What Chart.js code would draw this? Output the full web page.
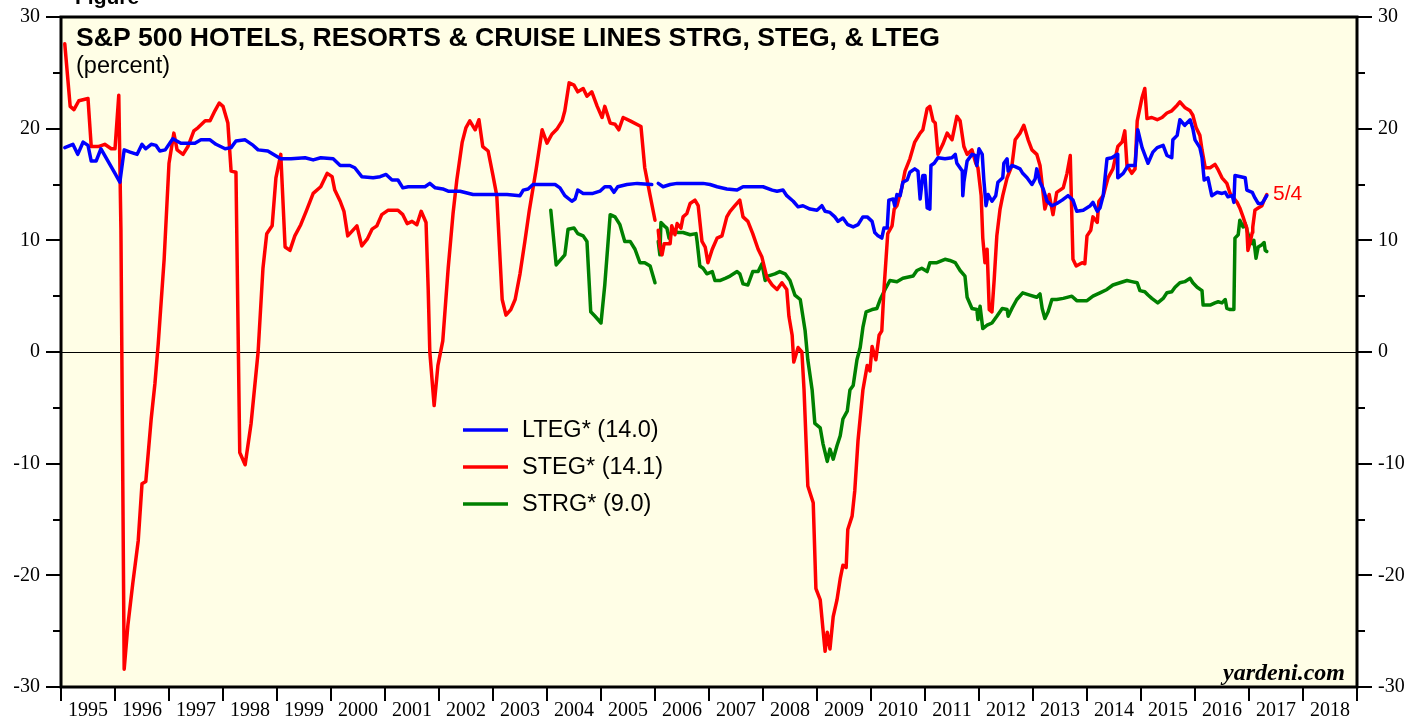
<!DOCTYPE html>
<html>
<head>
<meta charset="utf-8">
<script src="https://cdn.jsdelivr.net/npm/chart.js@4.4.1/dist/chart.umd.min.js"></script>
<style>
  html, body { margin: 0; padding: 0; background: #fff; }
  canvas { display: block; }
</style>
</head>
<body>
<canvas id="chart" width="1427" height="719"></canvas>
<script>
// [year as decimal, percent]; null = break in the series (Jan 2006)
const ltegSeries = [
  [1995.07,18.3],[1995.22,18.6],[1995.31,17.7],[1995.41,18.8],[1995.50,18.5],[1995.56,17.1],[1995.65,17.1],
  [1995.74,18.2],[1995.87,17.1],[1996.00,16.0],[1996.09,15.2],[1996.17,18.1],[1996.28,17.9],[1996.41,17.7],
  [1996.50,18.6],[1996.57,18.2],[1996.67,18.6],[1996.76,18.5],[1996.83,18.0],[1996.93,18.1],[1997.07,19.1],
  [1997.22,18.7],[1997.48,18.7],[1997.59,19.0],[1997.76,19.0],[1997.87,18.6],[1998.04,18.2],[1998.15,18.3],
  [1998.24,18.9],[1998.41,19.0],[1998.56,18.5],[1998.65,18.1],[1998.83,18.0],[1998.93,17.7],[1999.07,17.3],
  [1999.26,17.3],[1999.52,17.4],[1999.67,17.2],[1999.81,17.4],[2000.04,17.3],[2000.17,16.7],[2000.35,16.7],
  [2000.44,16.5],[2000.57,15.7],[2000.78,15.6],[2000.91,15.7],[2001.02,15.9],[2001.13,15.4],[2001.24,15.4],
  [2001.33,14.7],[2001.43,14.8],[2001.65,14.8],[2001.74,14.8],[2001.83,15.1],[2001.93,14.7],[2002.07,14.6],
  [2002.17,14.4],[2002.39,14.4],[2002.63,14.1],[2002.89,14.1],[2003.07,14.1],[2003.26,14.1],[2003.50,14.0],
  [2003.56,14.5],[2003.65,14.6],[2003.74,15.0],[2003.93,15.0],[2004.15,15.0],[2004.24,14.7],[2004.33,14.0],
  [2004.46,13.5],[2004.52,13.7],[2004.57,14.5],[2004.67,14.2],[2004.85,14.2],[2004.98,14.4],[2005.07,14.8],
  [2005.17,14.8],[2005.24,14.3],[2005.31,14.8],[2005.48,15.0],[2005.67,15.1],[2005.94,15.0],[2006.00,null],
  [2006.06,15.1],[2006.15,14.8],[2006.28,15.0],[2006.41,15.1],[2006.65,15.1],[2006.89,15.1],[2007.02,15.0],
  [2007.15,14.8],[2007.33,14.6],[2007.52,14.5],[2007.63,14.8],[2007.76,14.8],[2008.00,14.8],[2008.17,14.5],
  [2008.26,14.4],[2008.37,14.5],[2008.44,14.0],[2008.56,13.5],[2008.65,13.0],[2008.74,13.1],[2008.87,12.8],
  [2009.00,12.7],[2009.09,13.1],[2009.15,12.6],[2009.24,12.5],[2009.33,12.1],[2009.39,11.7],[2009.48,12.0],
  [2009.57,11.4],[2009.67,11.2],[2009.76,11.4],[2009.85,12.1],[2009.93,12.1],[2010.02,11.7],[2010.07,10.7],
  [2010.13,10.4],[2010.20,10.2],[2010.24,11.1],[2010.30,11.1],[2010.33,13.6],[2010.41,13.7],[2010.44,13.1],
  [2010.48,14.1],[2010.54,14.0],[2010.59,15.2],[2010.67,15.4],[2010.72,16.1],[2010.81,16.4],[2010.87,16.2],
  [2010.91,13.7],[2010.96,15.8],[2011.00,15.8],[2011.04,12.9],[2011.09,12.8],[2011.11,16.7],[2011.17,16.9],
  [2011.24,17.4],[2011.37,17.3],[2011.50,17.4],[2011.56,17.7],[2011.59,16.9],[2011.69,16.2],[2011.70,14.0],
  [2011.72,15.2],[2011.78,17.1],[2011.87,17.7],[2011.93,17.6],[2011.96,16.7],[2012.00,18.2],[2012.06,17.7],
  [2012.09,15.4],[2012.13,13.1],[2012.17,14.1],[2012.24,13.5],[2012.31,14.0],[2012.35,15.2],[2012.44,15.6],
  [2012.46,16.9],[2012.52,17.3],[2012.54,16.2],[2012.61,16.7],[2012.67,16.6],[2012.76,16.4],[2012.81,16.0],
  [2012.89,15.6],[2012.98,15.0],[2013.04,15.5],[2013.07,16.4],[2013.13,15.2],[2013.19,14.6],[2013.26,13.5],
  [2013.35,13.1],[2013.44,13.3],[2013.54,13.6],[2013.65,14.0],[2013.74,13.6],[2013.81,12.6],[2013.93,12.7],
  [2014.06,13.1],[2014.11,13.4],[2014.19,12.6],[2014.24,12.9],[2014.30,14.0],[2014.37,17.3],[2014.46,17.4],
  [2014.56,17.7],[2014.57,15.6],[2014.67,16.0],[2014.76,16.7],[2014.89,16.7],[2014.94,19.9],[2015.02,18.3],
  [2015.13,16.9],[2015.22,17.9],[2015.30,18.3],[2015.41,18.5],[2015.48,17.6],[2015.57,17.4],[2015.59,19.0],
  [2015.67,19.4],[2015.72,20.8],[2015.81,20.3],[2015.91,20.8],[2015.96,20.0],[2016.00,19.0],[2016.09,18.3],
  [2016.13,17.4],[2016.17,15.4],[2016.24,15.6],[2016.31,14.0],[2016.41,14.3],[2016.50,14.2],[2016.56,14.3],
  [2016.61,13.9],[2016.69,14.0],[2016.72,13.4],[2016.74,15.8],[2016.93,15.6],[2016.96,14.5],[2017.06,14.3],
  [2017.11,13.8],[2017.17,13.3],[2017.24,13.3],[2017.28,13.6],[2017.33,14.0]
];

const stegSeries = [
  [1995.07,27.6],[1995.17,22.0],[1995.24,21.7],[1995.33,22.5],[1995.50,22.7],[1995.56,18.4],[1995.69,18.4],
  [1995.81,18.6],[1995.93,18.2],[1996.00,18.2],[1996.07,23.0],[1996.11,10.9],[1996.17,-28.4],[1996.24,-24.4],
  [1996.33,-20.7],[1996.43,-16.9],[1996.50,-11.8],[1996.57,-11.6],[1996.67,-6.0],[1996.74,-2.8],[1996.80,0.7],
  [1996.91,8.3],[1997.00,16.9],[1997.09,19.6],[1997.15,18.1],[1997.26,17.7],[1997.35,18.4],[1997.46,19.8],
  [1997.54,20.1],[1997.67,20.7],[1997.76,20.7],[1997.85,21.6],[1997.93,22.3],[1998.00,22.0],[1998.09,20.5],
  [1998.15,16.2],[1998.24,16.1],[1998.31,-9.0],[1998.41,-10.1],[1998.52,-6.4],[1998.65,0.0],[1998.74,7.5],
  [1998.81,10.6],[1998.91,11.3],[1998.98,15.6],[1999.07,17.7],[1999.15,9.4],[1999.24,9.1],[1999.33,10.4],
  [1999.44,11.4],[1999.54,12.6],[1999.67,14.2],[1999.81,14.8],[1999.93,16.0],[2000.02,15.7],[2000.07,14.5],
  [2000.17,13.5],[2000.24,12.6],[2000.31,10.4],[2000.48,11.3],[2000.57,9.5],[2000.67,10.1],[2000.76,11.0],
  [2000.85,11.3],[2000.94,12.3],[2001.06,12.7],[2001.24,12.7],[2001.33,12.3],[2001.41,11.5],[2001.50,11.7],
  [2001.59,11.4],[2001.67,12.6],[2001.76,11.6],[2001.80,5.6],[2001.83,0.0],[2001.91,-4.8],[2001.98,-1.2],
  [2002.07,1.0],[2002.17,7.5],[2002.26,12.4],[2002.33,15.4],[2002.43,18.8],[2002.50,20.1],[2002.57,20.7],
  [2002.67,19.9],[2002.74,20.8],[2002.81,18.4],[2002.91,18.0],[2003.00,15.8],[2003.07,14.0],[2003.17,4.7],
  [2003.24,3.3],[2003.33,3.8],[2003.41,4.7],[2003.50,7.0],[2003.59,9.9],[2003.67,12.6],[2003.80,16.4],
  [2003.91,19.9],[2004.00,18.7],[2004.09,19.5],[2004.19,20.0],[2004.28,20.7],[2004.33,21.6],[2004.41,24.1],
  [2004.50,23.9],[2004.57,23.3],[2004.67,23.6],[2004.74,22.9],[2004.83,23.3],[2004.93,22.0],[2005.02,21.0],
  [2005.07,22.0],[2005.17,20.5],[2005.26,20.4],[2005.33,19.9],[2005.41,21.0],[2005.54,20.7],[2005.74,20.2],
  [2005.81,16.5],[2005.91,14.0],[2006.00,11.8],[2006.03,null],[2006.06,10.9],[2006.09,9.4],[2006.13,8.7],
  [2006.17,9.7],[2006.28,9.7],[2006.31,11.3],[2006.37,10.5],[2006.41,11.5],[2006.48,11.1],[2006.52,12.1],
  [2006.59,12.4],[2006.65,13.3],[2006.74,13.6],[2006.80,13.1],[2006.87,9.9],[2006.93,9.4],[2006.98,8.0],
  [2007.06,9.2],[2007.15,10.2],[2007.24,10.4],[2007.33,12.1],[2007.39,12.6],[2007.48,13.1],[2007.57,13.6],
  [2007.63,12.1],[2007.72,11.7],[2007.81,10.6],[2007.91,9.2],[2007.98,8.5],[2008.07,6.7],[2008.17,6.0],
  [2008.26,5.6],[2008.35,6.2],[2008.44,5.6],[2008.48,3.2],[2008.54,1.5],[2008.57,-0.9],[2008.65,0.4],
  [2008.72,0.0],[2008.76,-3.4],[2008.83,-12.0],[2008.93,-13.5],[2008.98,-21.2],[2009.06,-22.2],[2009.11,-24.8],
  [2009.15,-26.8],[2009.19,-25.1],[2009.24,-26.6],[2009.30,-23.7],[2009.37,-22.2],[2009.43,-20.3],[2009.48,-19.1],
  [2009.54,-19.3],[2009.57,-15.9],[2009.65,-14.7],[2009.70,-12.4],[2009.76,-7.9],[2009.85,-3.4],[2009.93,-1.2],
  [2009.98,-1.7],[2010.02,0.5],[2010.09,-0.7],[2010.15,1.5],[2010.20,1.9],[2010.24,5.6],[2010.31,10.6],
  [2010.39,11.3],[2010.43,12.8],[2010.48,13.1],[2010.57,14.7],[2010.63,16.2],[2010.72,17.3],[2010.81,18.8],
  [2010.91,19.6],[2010.96,19.9],[2011.04,21.8],[2011.09,22.0],[2011.15,20.7],[2011.19,20.5],[2011.24,17.7],
  [2011.33,18.6],[2011.41,19.6],[2011.50,19.0],[2011.59,21.1],[2011.65,20.7],[2011.72,18.4],[2011.78,17.7],
  [2011.87,18.1],[2011.94,16.9],[2011.98,16.5],[2012.04,14.0],[2012.07,10.2],[2012.11,8.0],[2012.15,9.2],
  [2012.19,3.8],[2012.24,3.6],[2012.28,6.4],[2012.33,10.4],[2012.39,12.8],[2012.44,14.0],[2012.52,15.6],
  [2012.61,16.7],[2012.67,19.0],[2012.76,19.6],[2012.83,20.3],[2012.91,19.0],[2012.98,18.1],[2013.07,17.7],
  [2013.13,16.7],[2013.22,12.8],[2013.30,14.1],[2013.37,12.3],[2013.44,14.3],[2013.56,14.7],[2013.63,16.0],
  [2013.69,17.6],[2013.74,8.3],[2013.80,7.7],[2013.91,8.0],[2013.96,7.9],[2014.00,10.4],[2014.07,10.9],
  [2014.11,12.1],[2014.19,11.6],[2014.22,13.5],[2014.30,14.0],[2014.39,15.6],[2014.48,16.4],[2014.57,18.4],
  [2014.65,18.8],[2014.70,19.8],[2014.74,16.7],[2014.83,16.0],[2014.89,16.4],[2014.93,20.7],[2015.02,22.8],
  [2015.07,23.6],[2015.11,20.9],[2015.20,21.0],[2015.30,20.8],[2015.39,21.0],[2015.48,21.4],[2015.57,21.6],
  [2015.67,22.1],[2015.72,22.4],[2015.81,21.9],[2015.91,21.6],[2015.96,21.2],[2016.02,20.1],[2016.09,19.4],
  [2016.13,18.1],[2016.19,16.5],[2016.28,16.5],[2016.37,16.8],[2016.43,16.3],[2016.50,15.6],[2016.59,15.1],
  [2016.65,14.2],[2016.70,13.9],[2016.78,13.4],[2016.83,12.9],[2016.89,12.1],[2016.93,11.5],[2016.96,11.1],
  [2016.98,9.1],[2017.02,9.8],[2017.06,10.7],[2017.07,11.2],[2017.11,12.7],[2017.17,12.9],[2017.24,13.1],
  [2017.28,13.6],[2017.33,14.1]
];

const strgSeries = [
  [2004.07,12.7],[2004.17,7.8],[2004.33,8.7],[2004.39,11.0],[2004.50,11.1],[2004.57,10.6],[2004.67,10.4],
  [2004.74,9.9],[2004.81,3.6],[2004.89,3.2],[2005.00,2.6],[2005.07,6.0],[2005.17,12.3],[2005.26,12.1],
  [2005.35,11.4],[2005.44,9.9],[2005.54,9.9],[2005.63,9.2],[2005.72,8.0],[2005.81,8.0],[2005.91,7.7],
  [2006.00,6.2],[2006.03,null],[2006.06,9.9],[2006.09,8.7],[2006.11,11.6],[2006.17,11.3],[2006.22,11.1],
  [2006.26,10.2],[2006.33,10.9],[2006.43,10.7],[2006.52,10.7],[2006.65,10.5],[2006.76,10.6],[2006.78,9.9],
  [2006.83,7.7],[2006.89,7.5],[2006.96,7.0],[2007.06,7.2],[2007.11,6.4],[2007.20,6.4],[2007.30,6.6],
  [2007.39,6.8],[2007.52,7.2],[2007.57,7.0],[2007.63,6.1],[2007.72,6.0],[2007.81,7.2],[2007.91,7.2],
  [2007.98,7.9],[2008.04,6.4],[2008.09,6.8],[2008.22,7.0],[2008.31,7.2],[2008.41,7.0],[2008.50,6.4],
  [2008.59,5.1],[2008.69,4.7],[2008.78,1.9],[2008.83,-0.7],[2008.91,-3.4],[2008.96,-6.4],[2009.06,-6.8],
  [2009.11,-8.2],[2009.19,-9.8],[2009.24,-8.7],[2009.30,-9.6],[2009.37,-8.4],[2009.43,-7.5],[2009.48,-6.0],
  [2009.56,-5.3],[2009.61,-3.4],[2009.67,-3.0],[2009.74,-0.7],[2009.80,0.4],[2009.85,2.2],[2009.91,3.6],
  [2010.02,3.8],[2010.11,3.9],[2010.17,4.7],[2010.26,5.6],[2010.35,6.4],[2010.48,6.3],[2010.59,6.6],
  [2010.78,6.8],[2010.85,7.3],[2010.94,7.5],[2011.04,7.2],[2011.09,8.0],[2011.22,8.0],[2011.37,8.3],
  [2011.46,8.2],[2011.56,8.0],[2011.65,7.3],[2011.74,6.8],[2011.78,4.9],[2011.87,3.9],[2011.96,3.8],
  [2011.98,2.9],[2012.02,4.1],[2012.07,2.1],[2012.15,2.4],[2012.24,2.6],[2012.33,3.2],[2012.43,3.9],
  [2012.52,3.8],[2012.54,3.2],[2012.61,3.9],[2012.70,4.7],[2012.81,5.3],[2012.94,5.1],[2013.07,4.9],
  [2013.13,5.2],[2013.17,3.9],[2013.22,3.0],[2013.28,3.6],[2013.35,4.7],[2013.44,4.7],[2013.56,4.8],
  [2013.72,5.0],[2013.81,4.6],[2014.00,4.6],[2014.11,5.0],[2014.24,5.3],[2014.37,5.6],[2014.48,6.0],
  [2014.61,6.2],[2014.74,6.4],[2014.83,6.3],[2014.93,6.2],[2014.98,5.5],[2015.07,5.4],[2015.13,5.1],
  [2015.20,4.8],[2015.31,4.4],[2015.41,4.8],[2015.48,5.3],[2015.57,5.4],[2015.63,5.8],[2015.72,6.2],
  [2015.81,6.3],[2015.91,6.6],[2015.96,6.2],[2016.04,5.8],[2016.13,5.5],[2016.15,4.2],[2016.28,4.2],
  [2016.37,4.4],[2016.43,4.5],[2016.50,4.4],[2016.56,4.7],[2016.59,3.9],[2016.65,3.8],[2016.72,3.8],
  [2016.74,10.2],[2016.80,10.5],[2016.83,11.8],[2016.89,11.2],[2016.93,11.5],[2016.98,10.6],[2017.06,9.7],
  [2017.09,10.0],[2017.13,8.4],[2017.17,9.4],[2017.24,9.6],[2017.28,9.8],[2017.30,9.1],[2017.33,9.0]
];

const yearLabels = ['1995','1996','1997','1998','1999','2000','2001','2002','2003','2004','2005','2006',
  '2007','2008','2009','2010','2011','2012','2013','2014','2015','2016','2017','2018'];
const seriesNames = ['LTEG* (14.0)', 'STEG* (14.1)', 'STRG* (9.0)'];
const seriesColors = ['#0000ff', '#ff0000', '#008000'];
const titleText = 'S&P 500 HOTELS, RESORTS & CRUISE LINES STRG, STEG, & LTEG';

const toPoints = s => s.map(p => ({ x: p[0], y: p[1] }));

const serifTicks = { family: '"Liberation Serif", "Times New Roman", serif', size: 20 };

// keep the y axes from pushing the plot area down
function fixVertical(width) {
  return s => { s.width = width; s.paddingTop = 0; s.paddingBottom = 0; };
}

// frame, tick marks, titles and the hand-placed legend
const decorations = {
  id: 'decorations',
  beforeDraw(chart) {
    const { ctx, chartArea: a } = chart;
    ctx.save();
    ctx.fillStyle = '#fffee6';
    ctx.fillRect(a.left, a.top, a.right - a.left, a.bottom - a.top);
    ctx.restore();
  },
  afterDraw(chart) {
    const { ctx, chartArea: a } = chart;
    const ys = chart.scales.y;
    ctx.save();

    // y tick marks on both sides, long at tens, short at fives
    ctx.strokeStyle = '#000';
    ctx.lineWidth = 2;
    for (let v = -30; v <= 30; v += 5) {
      const py = Math.round(ys.getPixelForValue(v));
      const len = v % 10 === 0 ? 15 : 8;
      ctx.beginPath();
      ctx.moveTo(a.left - len, py); ctx.lineTo(a.left, py);
      ctx.moveTo(a.right, py); ctx.lineTo(a.right + len, py);
      ctx.stroke();
    }

    // plot frame
    ctx.lineWidth = 3;
    ctx.strokeRect(a.left, a.top, a.right - a.left, a.bottom - a.top);

    // cut-off figure heading above the frame
    ctx.fillStyle = '#000';
    ctx.textAlign = 'left';
    ctx.textBaseline = 'alphabetic';
    ctx.font = 'bold 21px "Liberation Sans", Arial, sans-serif';
    ctx.fillText('Figure', 75, 4);

    ctx.font = 'bold 26.6px "Liberation Sans", Arial, sans-serif';
    ctx.fillText(titleText, 76, 46);
    ctx.font = '23.5px "Liberation Sans", Arial, sans-serif';
    ctx.fillText('(percent)', 76, 73);

    // legend
    ctx.textBaseline = 'middle';
    ctx.font = '23.5px "Liberation Sans", Arial, sans-serif';
    seriesNames.forEach((name, i) => {
      const ly = 430 + i * 37;
      ctx.strokeStyle = seriesColors[i];
      ctx.lineWidth = 3.5;
      ctx.beginPath();
      ctx.moveTo(463, ly); ctx.lineTo(508, ly);
      ctx.stroke();
      ctx.fillStyle = '#000';
      ctx.fillText(name, 522, ly + 1);
    });

    // date tag at the end of the lines
    ctx.fillStyle = '#ff0000';
    ctx.font = '21px "Liberation Sans", Arial, sans-serif';
    ctx.fillText('5/4', 1273, 194);

    ctx.fillStyle = '#000';
    ctx.textAlign = 'right';
    ctx.textBaseline = 'alphabetic';
    ctx.font = 'italic bold 24px "Liberation Serif", "Times New Roman", serif';
    ctx.fillText('yardeni.com', 1345, 680);

    ctx.restore();
  }
};

const chart = new Chart(document.getElementById('chart'), {
  type: 'line',
  data: {
    datasets: [
      { label: 'LTEG', data: toPoints(ltegSeries), borderColor: seriesColors[0] },
      { label: 'STEG', data: toPoints(stegSeries), borderColor: seriesColors[1] },
      { label: 'STRG', data: toPoints(strgSeries), borderColor: seriesColors[2] }
    ]
  },
  options: {
    responsive: false,
    animation: false,
    devicePixelRatio: 1,
    spanGaps: false,
    layout: { padding: { top: 17, left: 0, right: 0, bottom: 0 } },
    elements: {
      point: { radius: 0, hoverRadius: 0 },
      line: { borderWidth: 3.5, tension: 0, borderJoinStyle: 'round', borderCapStyle: 'round', fill: false }
    },
    plugins: { legend: { display: false }, tooltip: { enabled: false } },
    scales: {
      x: {
        type: 'linear', min: 1995, max: 2019,
        afterFit(s) { s.height = 32; s.paddingLeft = 0; s.paddingRight = 0; },
        border: { display: false },
        grid: { drawOnChartArea: false, drawTicks: true, tickLength: 14, lineWidth: 2, color: '#000' },
        ticks: {
          stepSize: 1, autoSkip: false, maxRotation: 0, labelOffset: 27, padding: -2,
          color: '#000', font: serifTicks,
          callback: v => yearLabels[Math.round(v) - 1995] || ''
        }
      },
      y: {
        position: 'left', min: -30, max: 30,
        afterFit: fixVertical(61),
        border: { display: false },
        grid: {
          drawTicks: false, lineWidth: 1,
          color: c => (c.tick && c.tick.value === 0) ? '#000' : 'rgba(0,0,0,0)'
        },
        ticks: {
          stepSize: 5, autoSkip: false, padding: 21, color: '#000', font: serifTicks,
          callback: v => v % 10 === 0 ? String(v) : ''
        }
      },
      y2: {
        position: 'right', min: -30, max: 30,
        afterFit: fixVertical(70),
        border: { display: false },
        grid: { display: false, drawTicks: false },
        ticks: {
          stepSize: 5, autoSkip: false, padding: 21, color: '#000', font: serifTicks,
          callback: v => v % 10 === 0 ? String(v) : ''
        }
      }
    }
  },
  plugins: [decorations]
});
</script>
</body>
</html>
